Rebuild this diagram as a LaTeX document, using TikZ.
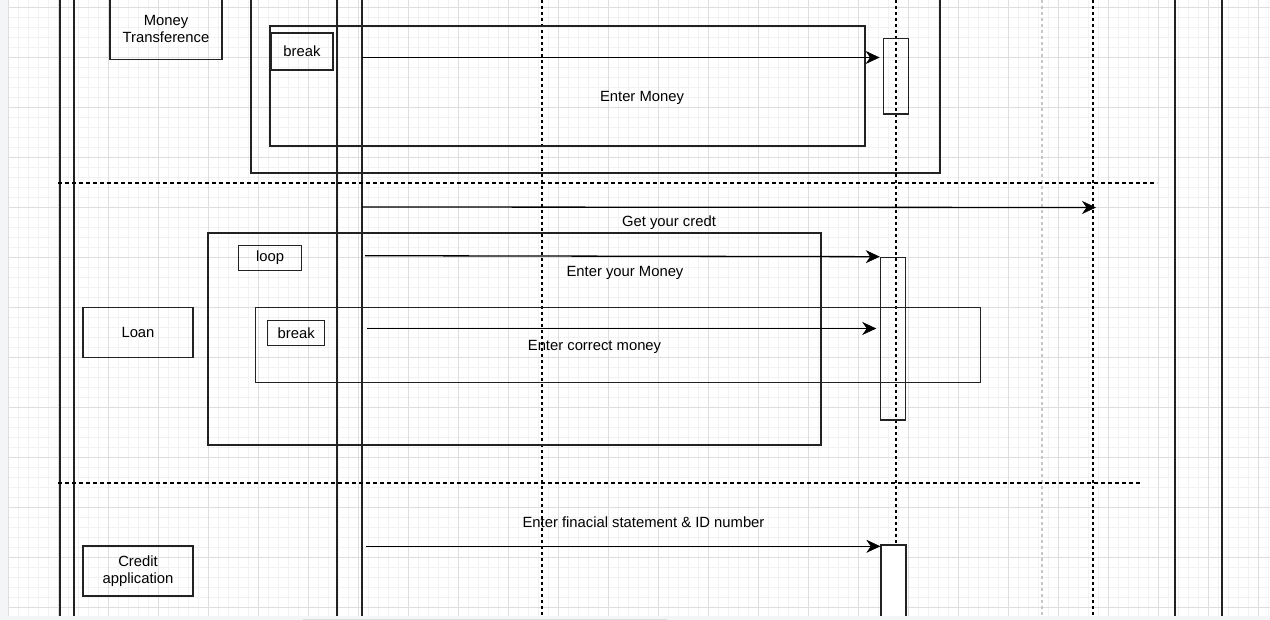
\documentclass[tikz,border=0pt]{standalone}
\usepackage{fontspec}
\setmainfont{Liberation Sans}
\usetikzlibrary{arrows.meta}
\definecolor{gridminor}{HTML}{F2F2F2}
\definecolor{gridmajor}{HTML}{DEDEDE}
\definecolor{strip}{HTML}{F4F5F6}
\definecolor{linec}{HTML}{222222}
\tikzset{
  gminor/.style={draw=gridminor, line width=0.8pt},
  gmajor/.style={draw=gridmajor, line width=0.9pt},
  lifesolid/.style={draw=linec, line width=1.4pt},
  lifedash/.style={draw=black, line width=1.1pt, dash pattern=on 3pt off 3pt},
  lifegray/.style={draw=black!22, line width=1.1pt, dash pattern=on 3pt off 3pt},
  sepdash/.style={draw=black, line width=1.1pt, dash pattern=on 4pt off 3pt},
  box/.style={draw=linec, line width=1.3pt, inner sep=0pt, align=center,
    font=\fontsize{14.8}{17.5}\selectfont, text=black},
  actbox/.style={draw=linec, line width=1.3pt, inner sep=0pt},
  lbl/.style={inner sep=0pt, font=\fontsize{14.8}{17.5}\selectfont, text=black},
  msg/.style={draw=black, line width=1.3pt, arrows={-Stealth[length=14pt,width=13pt,inset=4.5pt,line width=0.5pt]}},
}
\begin{document}
\begin{tikzpicture}[x=1pt,y=-1pt]
\useasboundingbox (0,0) rectangle (1270,620);
\fill[white] (0,0) rectangle (1270,620);
\begin{scope}
\clip (0,0) rectangle (1270,616);
% grid
\foreach \x in {8,18,...,1268} \draw[gminor] (\x,0) -- (\x,616);
\foreach \y in {7,17,...,617} \draw[gminor] (8,\y) -- (1270,\y);
\foreach \x in {8,58,...,1258} \draw[gmajor] (\x,0) -- (\x,616);
\foreach \y in {7,57,...,607} \draw[gmajor] (8,\y) -- (1270,\y);
\fill[strip] (0,0) rectangle (8,616);

% lifelines
\draw[lifesolid] (60,0) -- (60,616);
\draw[lifesolid] (74,0) -- (74,616);
\draw[lifesolid] (337,0) -- (337,616);
\draw[lifesolid] (362,0) -- (362,616);
\draw[lifesolid] (1175,0) -- (1175,616);
\draw[lifesolid] (1222,0) -- (1222,616);
\draw[lifedash] (542,0) -- (542,616);
\draw[lifedash] (896,0) -- (896,616);
\draw[lifedash] (1093,0) -- (1093,616);
\draw[lifegray] (1042,0) -- (1042,616);

% separators
\draw[sepdash] (58,183) -- (1157,183);
\draw[sepdash] (58,483) -- (1142,483);

% section 1: Money Transference
\node[box, minimum width=112pt, minimum height=61pt] (mt) at (166,29) {Money\\Transference};
\node[box, minimum width=689pt, minimum height=180pt] (f1) at (595.5,83) {};
\node[box, minimum width=595pt, minimum height=120pt] (f2) at (567.5,86) {};
\node[box, minimum width=62pt, minimum height=37pt] (brk1) at (302,51.5) {break};
\node[actbox, minimum width=25.5pt, minimum height=75.5pt] (act1) at (896,76.3) {};
\coordinate (s1) at (362,57.5);
\draw[msg, shorten >=3pt] (s1) -- (s1 -| act1.west);
\node[lbl] (t1) at (642,97.5) {Enter Money};

% section 2: Loan
\coordinate (s2) at (362,207);
\coordinate (e2) at (1096,207.5);
\draw[msg] (s2) -- (e2);
\node[lbl] (t2) at (669,222.5) {Get your credt};
\node[box, minimum width=110pt, minimum height=50pt] (loan) at (138,332.5) {Loan};
\node[box, minimum width=613pt, minimum height=212pt] (fl) at (514.5,339) {};
\node[box, minimum width=63.5pt, minimum height=25.5pt] (loopl) at (270,258) {loop};
\node[box, minimum width=725pt, minimum height=75pt] (fb) at (618.3,345.2) {};
\node[box, minimum width=57pt, minimum height=25.5pt] (brk2) at (296.2,333) {break};
\node[actbox, minimum width=25.2pt, minimum height=162.7pt] (act2) at (893,338.7) {};
\coordinate (s3) at (365,255.7);
\draw[msg] (s3) -- (act2.north west);
\node[lbl] (t3) at (625,272.5) {Enter your Money};
\coordinate (s4) at (367,328.5);
\draw[msg, shorten >=3.5pt] (s4) -- (s4 -| act2.west);
\node[lbl] (t4) at (594.5,346.5) {Enter correct money};

% section 3: Credit application
\node[box, minimum width=110pt, minimum height=50pt] (credit) at (138,571) {Credit\\application};
\node[actbox, fill=white, minimum width=25pt, minimum height=120pt] (act3) at (893.5,605) {};
\coordinate (s5) at (366,546.3);
\draw[msg] (s5) -- (s5 -| act3.west);
\node[lbl] (t5) at (643.5,522.5) {Enter finacial statement \& ID number};
\end{scope}
% bottom strip
\fill[strip] (0,616) rectangle (1270,620);
\draw[draw=black!14, line width=1pt] (303,619.3) -- (667,619.3);
\end{tikzpicture}
\end{document}
